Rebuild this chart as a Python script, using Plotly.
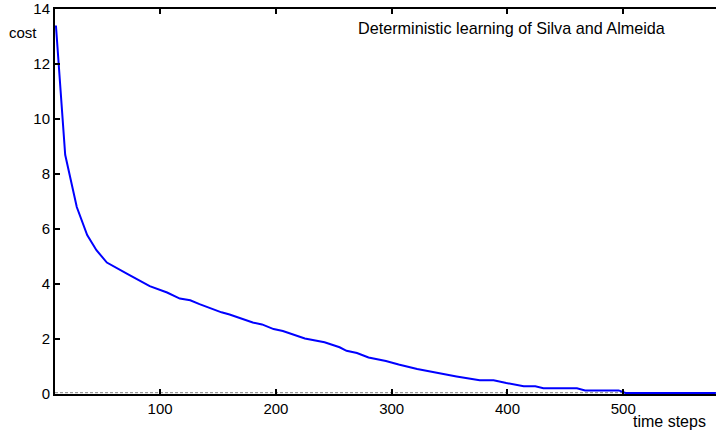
import plotly.graph_objects as go

# data
time_steps = [10, 18, 28, 37, 45, 54, 72, 80, 91, 106, 117, 126, 134, 153, 160, 180, 188,
              198, 206, 225, 242, 255, 261, 270, 280, 295, 306, 322, 335, 356, 376, 388,
              399, 414, 424, 431, 460, 467, 496, 502, 580]
cost = [13.4, 8.7, 6.8, 5.78, 5.23, 4.78, 4.36, 4.18, 3.92, 3.69, 3.47, 3.41, 3.27, 2.97,
        2.89, 2.6, 2.53, 2.36, 2.29, 2.02, 1.88, 1.7, 1.57, 1.49, 1.33, 1.2, 1.07, 0.91,
        0.8, 0.64, 0.5, 0.5, 0.4, 0.28, 0.28, 0.21, 0.21, 0.13, 0.13, 0.04, 0.04]
goal = 0.05
x_ticks = [100, 200, 300, 400, 500]
y_ticks = [0, 2, 4, 6, 8, 10, 12, 14]
x_range = [9.2, 580.1]
y_range = [0, 14]

FONT = "Arial, Liberation Sans, sans-serif"

fig = go.Figure()
fig.add_trace(go.Scatter(x=x_range, y=[goal, goal], mode="lines",
                         line=dict(color="#9a9a9a", width=1.2, dash="3px,2px"),
                         hoverinfo="skip", showlegend=False))
fig.add_trace(go.Scatter(x=time_steps, y=cost, mode="lines",
                         line=dict(color="#0000ff", width=2), showlegend=False))

fig.update_layout(
    width=716, height=434,
    margin=dict(l=55, r=0, t=9, b=40),
    plot_bgcolor="white", paper_bgcolor="white",
    font=dict(family=FONT, size=15, color="black"),
    xaxis=dict(range=x_range, tickvals=x_ticks, ticks="inside", ticklen=5, tickwidth=1.5,
               tickcolor="black", showline=True, linecolor="black", linewidth=2,
               mirror="ticks", showgrid=False, zeroline=False,
               tickfont=dict(family=FONT, size=15)),
    yaxis=dict(range=y_range, tickvals=y_ticks, ticks="inside", ticklen=5, tickwidth=1.5,
               tickcolor="black", showline=True, linecolor="black", linewidth=2,
               showgrid=False, zeroline=False, tickfont=dict(family=FONT, size=15)),
    annotations=[
        dict(text="cost", xref="paper", yref="paper", x=-0.048, y=0.938,
             showarrow=False, font=dict(family=FONT, size=15), xanchor="center", yanchor="middle"),
        dict(text="Deterministic learning of Silva and Almeida", xref="paper", yref="paper",
             x=0.691, y=0.951, showarrow=False, font=dict(family=FONT, size=16.2),
             xanchor="center", yanchor="middle"),
        dict(text="time steps", xref="paper", yref="paper", x=0.93, y=-0.072,
             showarrow=False, font=dict(family=FONT, size=16), xanchor="center", yanchor="middle"),
    ],
)

fig.write_html("out.html")
